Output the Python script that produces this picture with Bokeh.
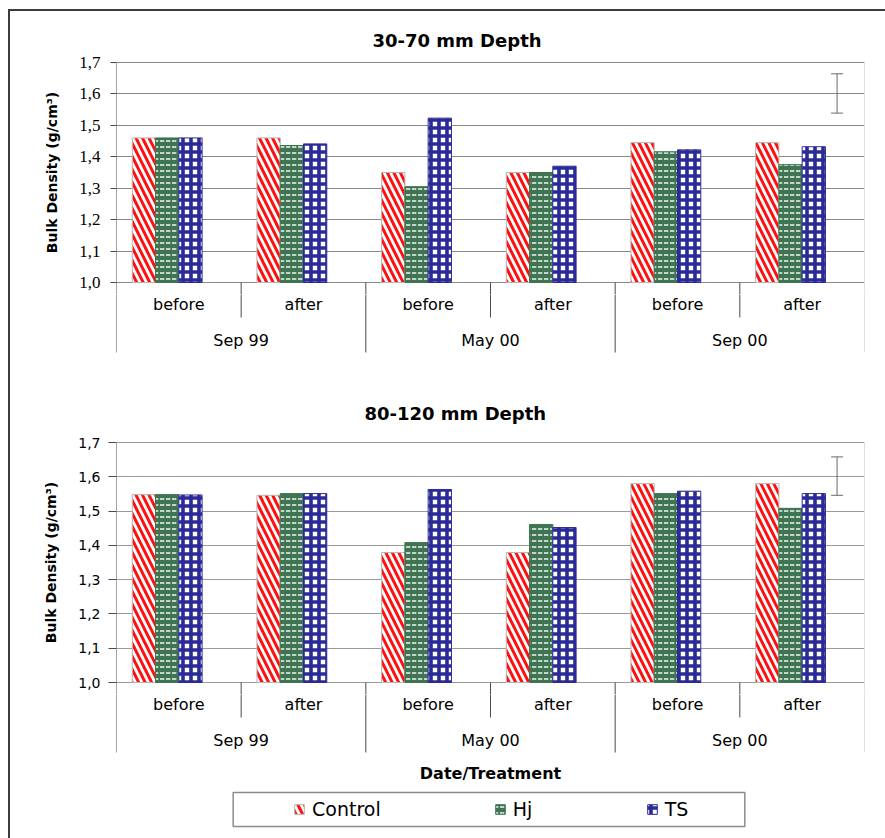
import numpy as np
from bokeh.plotting import figure
from bokeh.models import (ColumnDataSource, FactorRange, Range1d, FixedTicker,
                          CustomJSTickFormatter, Legend, LegendItem, BoxAnnotation)
from bokeh.layouts import column
from bokeh.transform import dodge
from bokeh.core.properties import value
from bokeh.embed import file_html
from bokeh.resources import INLINE

# ---------------- data ----------------
dates = ["Sep 99", "May 00", "Sep 00"]
stages = ["before", "after"]
categories = [(d, s) for d in dates for s in stages]
series = ["Control", "Hj", "TS"]
y_ticks = [1.0, 1.1, 1.2, 1.3, 1.4, 1.5, 1.6, 1.7]

control_30_70 = [1.460, 1.460, 1.350, 1.350, 1.445, 1.445]
hj_30_70 = [1.460, 1.436, 1.305, 1.350, 1.416, 1.375]
ts_30_70 = [1.460, 1.441, 1.523, 1.370, 1.422, 1.432]

control_80_120 = [1.548, 1.546, 1.379, 1.379, 1.580, 1.580]
hj_80_120 = [1.548, 1.551, 1.408, 1.461, 1.551, 1.508]
ts_80_120 = [1.547, 1.551, 1.563, 1.452, 1.558, 1.551]

# error bar (fourth, invisible series) : category, centre, half length
lsd_category = ("Sep 00", "after")
lsd_30_70 = [1.6015, 0.0625]
lsd_80_120 = [1.602, 0.056]

# ---------------- styles ----------------
SANS = "DejaVu Sans"
PAGE_W = 875
FRAME_W = 750
EXT = 12          # px of frame kept above 1.7 and below 1.0
BAR_W = 0.1867
SLOTS = [-1.5 * BAR_W, -0.5 * BAR_W, 0.5 * BAR_W, 1.5 * BAR_W]
AXIS_COL = "#4a4a4a"
EDGE_COL = "#c4c4c4"

bar_styles = {
    "Control": dict(fill_color="white", hatch_pattern="left_diagonal_line", hatch_color="#ff1010",
                    hatch_scale=13, hatch_weight=3.0, line_color="#b5b5b5", line_width=1),
    "Hj": dict(fill_color="#3e7452", hatch_pattern="horizontal_dash", hatch_color="#e4eee6",
               hatch_scale=6, hatch_weight=1.6, line_color="#3e7452", line_width=1),
    "TS": dict(fill_color="white", hatch_pattern="cross", hatch_color="#2b2b98",
               hatch_scale=8, hatch_weight=3.6, line_color="#2b2b98", line_width=1),
}

x_range = FactorRange(factors=categories, factor_padding=0, group_padding=0,
                      subgroup_padding=0, range_padding=0)

n_cat = len(categories)
group_edges = [i for i in range(1, n_cat) if categories[i][0] != categories[i - 1][0]]
sub_edges = [i for i in range(1, n_cat) if categories[i][0] == categories[i - 1][0]]


def bar_chart(title, vals, lsd, frame_h, height, left, top, title_offset, title_standoff,
              tick_font, tick_size, tick_out, tick_standoff, label_standoff, grid_col):
    u = (y_ticks[-1] - y_ticks[0]) / frame_h
    p = figure(x_range=x_range, y_range=Range1d(y_ticks[0] - EXT * u, y_ticks[-1] + EXT * u),
               width=PAGE_W, height=height,
               output_backend="svg", toolbar_location=None, x_axis_location=None,
               min_border_left=left, min_border_right=PAGE_W - left - FRAME_W,
               min_border_top=top, min_border_bottom=0)
    p.title.text = title
    p.title.align = "left"
    p.title.offset = title_offset
    p.title.standoff = title_standoff
    p.title.text_font = SANS
    p.title.text_font_style = "bold"
    p.title.text_font_size = "18px"
    p.title.text_color = "black"

    ax = p.yaxis[0]
    ax.ticker = FixedTicker(ticks=y_ticks, minor_ticks=[])
    ax.formatter = CustomJSTickFormatter(code="return tick.toFixed(1).replace('.', ',');")
    ax.major_tick_out = tick_out
    ax.major_tick_in = 0
    ax.minor_tick_out = 0
    ax.minor_tick_in = 0
    ax.axis_line_color = None
    ax.major_tick_line_color = AXIS_COL
    ax.major_label_text_font = tick_font
    ax.major_label_text_font_size = tick_size
    ax.major_label_text_color = "black"
    ax.major_label_standoff = tick_standoff
    ax.axis_label = "Bulk Density (g/cm³)"
    ax.axis_label_text_font = SANS
    ax.axis_label_text_font_style = "bold"
    ax.axis_label_text_font_size = "14px"
    ax.axis_label_text_color = "black"
    ax.axis_label_standoff = label_standoff

    p.ygrid.grid_line_color = grid_col
    p.xgrid.visible = False
    p.outline_line_color = None
    p.background_fill_color = "white"
    p.border_fill_color = "white"

    y0 = p.y_range.start
    # y axis line, right edge, and the tops of the category separators
    p.segment(x0=[0], x1=[0], y0=y0, y1=y_ticks[-1], line_color=AXIS_COL, line_width=1)
    p.segment(x0=[n_cat], x1=[n_cat], y0=y0, y1=y_ticks[-1], line_color=EDGE_COL, line_width=1)
    p.segment(x0=group_edges + sub_edges, x1=group_edges + sub_edges, y0=y0, y1=y_ticks[0],
              line_color=AXIS_COL, line_width=1)

    src = ColumnDataSource(dict(cat=categories, Control=vals[0], Hj=vals[1], TS=vals[2]))
    for k, name in enumerate(series):
        p.vbar(x=dodge("cat", SLOTS[k], range=x_range), top=name, bottom=y_ticks[0], width=BAR_W,
               source=src, **bar_styles[name])

    err = ColumnDataSource(dict(cat=[lsd_category], lo=[lsd[0] - lsd[1]], hi=[lsd[0] + lsd[1]]))
    ex = dodge("cat", SLOTS[3], range=x_range)
    p.segment(x0=ex, x1=ex, y0="lo", y1="hi", source=err, line_color="#6a6a6a", line_width=1)
    p.scatter(x=ex, y="lo", marker="dash", size=12, line_color="#6a6a6a", source=err)
    p.scatter(x=ex, y="hi", marker="dash", size=12, line_color="#6a6a6a", source=err)
    return p


def label_table(height, left):
    # y in pixels below the 1.0 line; the first EXT px belong to the chart above
    t = figure(x_range=x_range, y_range=Range1d(EXT + height, EXT), width=PAGE_W, height=height,
               output_backend="svg", toolbar_location=None, x_axis_location=None,
               y_axis_location=None, min_border_left=left,
               min_border_right=PAGE_W - left - FRAME_W, min_border_top=0, min_border_bottom=0)
    t.grid.visible = False
    t.outline_line_color = None
    t.background_fill_color = "white"
    t.border_fill_color = "white"
    t.segment(x0=[0] + group_edges, x1=[0] + group_edges, y0=0, y1=70,
              line_color=AXIS_COL, line_width=1)
    t.segment(x0=[n_cat], x1=[n_cat], y0=0, y1=70, line_color=EDGE_COL, line_width=1)
    t.segment(x0=sub_edges, x1=sub_edges, y0=0, y1=35, line_color=AXIS_COL, line_width=1)
    t.text(x=categories, y=22, text=[c[1] for c in categories], text_align="center",
           text_baseline="middle", text_font=value(SANS), text_font_size="16px", text_color="black")
    t.text(x=dates, y=58, text=dates, text_align="center", text_baseline="middle",
           text_font=value(SANS), text_font_size="16px", text_color="black")
    return t


top_vals = [control_30_70, hj_30_70, ts_30_70]
bot_vals = [control_80_120, hj_80_120, ts_80_120]

A = bar_chart("30-70 mm Depth", top_vals, lsd_30_70, 220, 283, 104, 39, 256, 0,
              "Liberation Serif", "17px", 6, 10, 16, "#888888")
B = label_table(87, 104)
C = bar_chart("80-120 mm Depth", bot_vals, lsd_80_120, 240, 313, 106, 49, 248, 13,
              SANS, "14px", 8, 8, 16, "#9a9a9a")
D = label_table(144, 106)

D.text(x=["May 00"], y=91, text=["Date/Treatment"], text_align="center", text_baseline="middle",
       text_font=value(SANS), text_font_style="bold", text_font_size="16px", text_color="black")

items = []
for name in series:
    # legend swatch carrier: a single bar of zero width and zero height in an empty spot
    src = ColumnDataSource(dict(cat=[categories[0]], y=[100]))
    r = D.vbar(x="cat", top="y", bottom="y", width=0, source=src, **bar_styles[name])
    items.append(LegendItem(label=name, renderers=[r]))
legend = Legend(items=items, orientation="horizontal", location=(177, 18), padding=0, margin=0,
                spacing=113, label_standoff=7, glyph_width=12, glyph_height=12, label_height=22,
                label_text_font=SANS, label_text_font_size="19px", label_text_color="black",
                border_line_color=None, background_fill_alpha=0)
D.add_layout(legend)
D.add_layout(BoxAnnotation(left=0.936, right=5.04, top=110, bottom=144, fill_alpha=0,
                           line_color="#8c8c8c", line_width=1.5, line_alpha=1))

layout = column(A, B, C, D, spacing=0, margin=(9, 0, 0, 8),
                styles={"border-left": "2px solid #3c3c3c", "border-top": "2px solid #3c3c3c",
                        "background-color": "white"})

open("out.html", "w").write(file_html(layout, INLINE))
